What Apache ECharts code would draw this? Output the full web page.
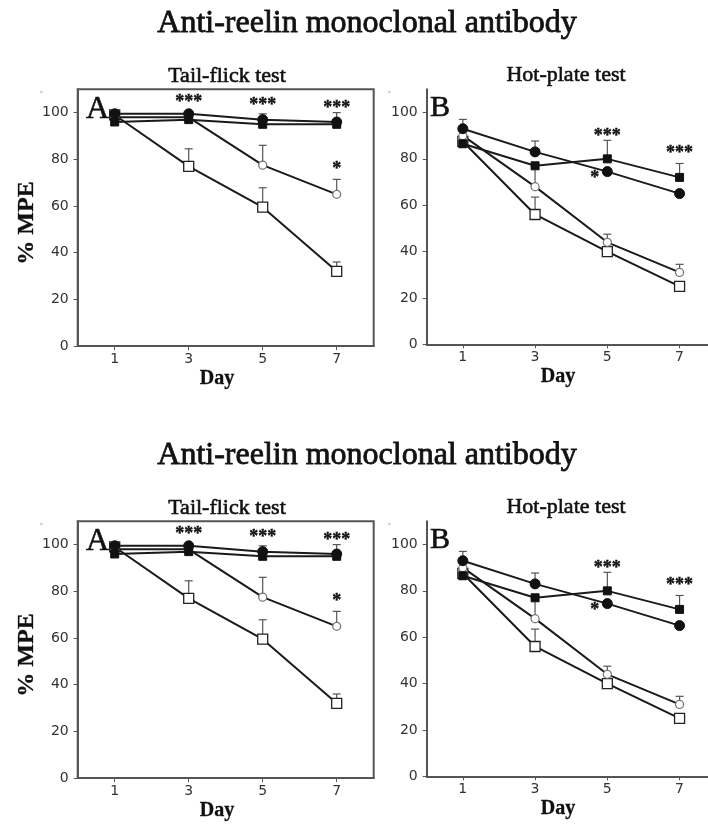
<!DOCTYPE html>
<html>
<head>
<meta charset="utf-8">
<script src="https://cdn.jsdelivr.net/npm/echarts@6/dist/echarts.min.js"></script>
<style>
html,body{margin:0;padding:0;background:#fff;}
#chart{width:708px;height:824px;}
</style>
</head>
<body>
<div id="chart"></div>
<script>
// ---------- data ----------
const days = [1, 3, 5, 7];
const xTicks = [1, 3, 5, 7];
const yTicks = [0, 20, 40, 60, 80, 100];

const titleText = 'Anti-reelin monoclonal antibody';
const panelTitles = ['Tail-flick test', 'Hot-plate test'];
const panelLetters = ['A', 'B'];
const xName = 'Day';
const yName = '% MPE';

// Tail-flick (panel A)
const tfOpenSquare = [99, 77, 59.5, 32];
const tfOpenSquareErr = [0, 7.5, 8.3, 4];
const tfOpenCircle = [98, 98, 77.5, 65];
const tfOpenCircleErr = [0, 0, 8.5, 6.4];
const tfFilledCircle = [99.5, 99.5, 97, 96];
const tfFilledCircleErr = [0, 0, 2.5, 4];
const tfFilledSquare = [96, 97, 95, 95];
const tfFilledSquareErr = [0, 0, 0, 0];
const tfSig = [[3, 106, '***'], [5, 104.8, '***'], [7, 103.7, '***'], [7, 77.5, '*']];

// Hot-plate (panel B)
const hpFilledCircle = [93, 83, 74.5, 65];
const hpFilledCircleErr = [4, 4.7, 0, 0];
const hpFilledSquare = [86.5, 77, 80, 72];
const hpFilledSquareErr = [0, 0, 8, 6];
const hpOpenCircle = [90, 68, 44, 31];
const hpOpenCircleErr = [0, 9, 3.5, 3.5];
const hpOpenSquare = [87.5, 56, 40, 25];
const hpOpenSquareErr = [0, 7.5, 0, 0];
const hpSig = [[5, 91.5, '***'], [7, 84, '***'], [4.65, 73.5, '*']];

// ---------- build ----------
const chart = echarts.init(document.getElementById('chart'), null, {renderer: 'canvas'});
const AX = '#555';
const serif = '"Liberation Serif", "Times New Roman", serif';
const sans = '"DejaVu Sans", sans-serif';

const grids = [], xAxes = [], yAxes = [], series = [], graphics = [];

function axisPair(gi) {
  xAxes.push({
    type: 'value', gridIndex: gi, min: 0, max: 8,
    axisLine: {show: true, onZero: false, lineStyle: {color: AX, width: 2}},
    axisTick: {show: true, length: 4, customValues: xTicks, lineStyle: {color: AX, width: 1}},
    axisLabel: {customValues: xTicks, fontFamily: sans, fontSize: 14, color: '#333', margin: 6},
    splitLine: {show: false}
  });
  yAxes.push({
    type: 'value', gridIndex: gi, min: 0, max: 110,
    axisLine: {show: true, onZero: false, lineStyle: {color: AX, width: 2}},
    axisTick: {show: true, length: 4, customValues: yTicks, lineStyle: {color: AX, width: 1}},
    axisLabel: {customValues: yTicks, fontFamily: sans, fontSize: 14, color: '#333', margin: 9},
    splitLine: {show: false}
  });
}

const styles = {
  openSquare: {symbol: 'rect', symbolSize: 10, itemStyle: {color: '#fff', borderColor: '#222', borderWidth: 1.3}},
  openCircle: {symbol: 'circle', symbolSize: 8, itemStyle: {color: '#fff', borderColor: '#777', borderWidth: 1.3}},
  filledCircle: {symbol: 'circle', symbolSize: 10, itemStyle: {color: '#111', borderColor: '#111', borderWidth: 1}},
  filledSquare: {symbol: 'rect', symbolSize: 8, itemStyle: {color: '#111', borderColor: '#111', borderWidth: 1}}
};

function addLine(gi, vals, kind, z) {
  const st = styles[kind];
  series.push({
    type: 'line', xAxisIndex: gi, yAxisIndex: gi,
    data: days.map((d, i) => [d, vals[i]]),
    symbol: st.symbol, symbolSize: st.symbolSize, showSymbol: true,
    itemStyle: st.itemStyle,
    lineStyle: {color: '#1a1a1a', width: 2},
    z: z, animation: false, silent: true
  });
}

function addErr(gi, vals, errs) {
  series.push({
    type: 'custom', xAxisIndex: gi, yAxisIndex: gi,
    data: days.map((d, i) => [d, vals[i], errs[i]]),
    renderItem: function (params, api) {
      const e = api.value(2);
      if (!e) return null;
      const x = api.value(0), y = api.value(1);
      const p0 = api.coord([x, y]);
      const p1 = api.coord([x, y + e]);
      return {
        type: 'group', children: [
          {type: 'line', shape: {x1: p0[0], y1: p0[1], x2: p1[0], y2: p1[1]}, style: {stroke: '#555', lineWidth: 1.2}},
          {type: 'line', shape: {x1: p1[0] - 4, y1: p1[1], x2: p1[0] + 4, y2: p1[1]}, style: {stroke: '#555', lineWidth: 1.2}}
        ]
      };
    },
    z: 1, animation: false, silent: true
  });
}

function addSig(gi, sig) {
  series.push({
    type: 'custom', xAxisIndex: gi, yAxisIndex: gi,
    data: sig.map(s => [s[0], s[1], s[2]]),
    dimensions: ['x', 'y', {name: 't', type: 'ordinal'}],
    renderItem: function (params, api) {
      const p = api.coord([api.value(0), api.value(1)]);
      const t = sig[params.dataIndex][2];
      return {
        type: 'text', x: p[0], y: p[1] + 4,
        style: {text: t, font: 'bold 18px ' + serif, fill: '#111', stroke: '#111', lineWidth: 0.4, textAlign: 'center', textVerticalAlign: 'middle'}
      };
    },
    z: 5, animation: false, silent: true
  });
}

function figure(off) {
  const giA = grids.length;
  grids.push({left: 77.7, top: 89.3 + off, width: 296, height: 256.7, show: true, borderColor: AX, borderWidth: 2, backgroundColor: 'transparent', outerBoundsMode: 'none'});
  axisPair(giA);
  const giB = grids.length;
  grids.push({left: 426.7, top: 89.3 + off, width: 289, height: 255, show: false, outerBoundsMode: 'none'});
  axisPair(giB);

  addErr(giA, tfOpenSquare, tfOpenSquareErr);
  addErr(giA, tfOpenCircle, tfOpenCircleErr);
  addErr(giA, tfFilledCircle, tfFilledCircleErr);
  addErr(giA, tfFilledSquare, tfFilledSquareErr);
  addLine(giA, tfOpenSquare, 'openSquare', 3);
  addLine(giA, tfOpenCircle, 'openCircle', 3);
  addLine(giA, tfFilledSquare, 'filledSquare', 4);
  addLine(giA, tfFilledCircle, 'filledCircle', 4);
  addSig(giA, tfSig);

  addErr(giB, hpFilledCircle, hpFilledCircleErr);
  addErr(giB, hpFilledSquare, hpFilledSquareErr);
  addErr(giB, hpOpenCircle, hpOpenCircleErr);
  addErr(giB, hpOpenSquare, hpOpenSquareErr);
  addLine(giB, hpOpenSquare, 'openSquare', 3);
  addLine(giB, hpOpenCircle, 'openCircle', 3);
  addLine(giB, hpFilledSquare, 'filledSquare', 4);
  addLine(giB, hpFilledCircle, 'filledCircle', 4);
  addSig(giB, hpSig);

  const T = (text, x, y, font, align, extra, sw) => Object.assign({
    type: 'text', x: x, y: y, silent: true,
    style: {text: text, font: font, fill: '#111', stroke: '#111', lineWidth: sw || 0.6, textAlign: align || 'center', textVerticalAlign: 'middle'}
  }, extra || {});

  graphics.push(T(titleText, 367, 23.5 + off, '32px ' + serif, 'center', null, 0.8));
  graphics.push(T(panelTitles[0], 227, 76 + off, '22px ' + serif, 'center', null, 0.6));
  graphics.push(T(panelTitles[1], 566, 75 + off, '22px ' + serif, 'center', null, 0.6));
  graphics.push(T(xName, 217, 379 + off, 'bold 20px ' + serif, 'center', null, 0.3));
  graphics.push(T(xName, 558, 377 + off, 'bold 20px ' + serif, 'center', null, 0.3));
  graphics.push(T(yName, 27, 223 + off, 'bold 24px ' + serif, 'center', {rotation: Math.PI / 2}, 0.3));
  graphics.push(T(panelLetters[0], 86, 109.5 + off, '32px ' + serif, 'left', {z: 10}, 0.6));
  graphics.push(T(panelLetters[1], 430, 108.5 + off, '30px ' + serif, 'left', {z: 10}, 0.6));
  graphics.push({type: 'line', silent: true, shape: {x1: 40, y1: 92 + off, x2: 43, y2: 92 + off}, style: {stroke: '#aaa', lineWidth: 1}});
  graphics.push({type: 'line', silent: true, shape: {x1: 388, y1: 92 + off, x2: 391, y2: 92 + off}, style: {stroke: '#aaa', lineWidth: 1}});
}

figure(0);
figure(432);

chart.setOption({
  backgroundColor: '#fff',
  animation: false,
  grid: grids,
  xAxis: xAxes,
  yAxis: yAxes,
  series: series,
  graphic: graphics
});
</script>
</body>
</html>
